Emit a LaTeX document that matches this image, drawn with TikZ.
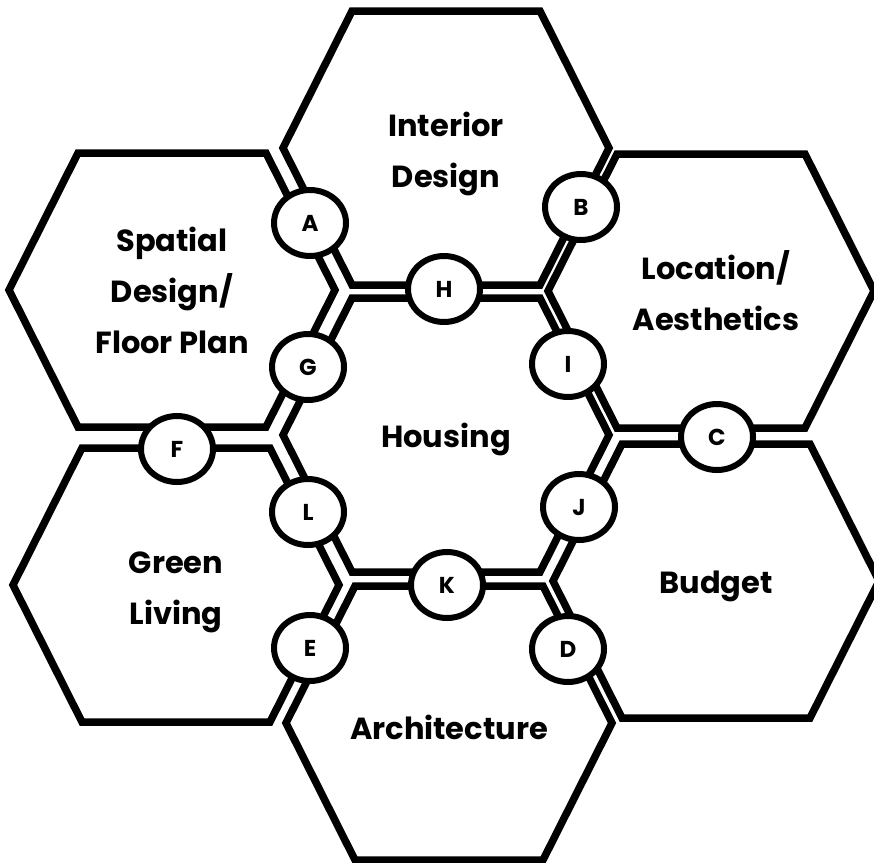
\documentclass[tikz,border=0pt]{standalone}
\usepackage{fontspec}
\setmainfont{Poppins}
\usetikzlibrary{shapes.geometric}

\tikzset{
  hexline/.style={line width=7.5pt, line join=miter},
  hexlabel/.style={align=center, font=\fontsize{30.5}{51}\selectfont\bfseries},
  badge/.style={ellipse, draw, line width=6pt, fill=white, minimum width=72pt,
    minimum height=66pt, inner sep=0pt, font=\fontsize{23}{26}\selectfont\bfseries}
}

\begin{document}
\begin{tikzpicture}[x=1pt,y=-1pt]
\useasboundingbox (0,0) rectangle (874,862);

% centres of the cells
\coordinate (int) at (446,148);
\coordinate (spa) at (172,290);
\coordinate (loc) at (711,291);
\coordinate (hou) at (446,435);
\coordinate (grn) at (176,585);
\coordinate (bud) at (716,581);
\coordinate (arc) at (449,723);

\foreach \c in {int,spa,loc,hou,grn,bud,arc}
  \draw[hexline,shift={(\c)}] (-163,0) -- (-94,-137) -- (94,-137) -- (163,0) -- (94,137) -- (-94,137) -- cycle;

\node[hexlabel] (intlabel) at ([yshift=-6pt]int) {Interior\\Design};
\node[hexlabel] (spalabel) at (spa) {Spatial\\Design/\\Floor Plan};
\node[hexlabel] (loclabel) at ([xshift=5pt]loc) {Location/\\Aesthetics};
\node[hexlabel] (houlabel) at ([yshift=-4pt]hou) {Housing};
\node[hexlabel] (grnlabel) at ([yshift=-7pt]grn) {Green\\Living};
\node[hexlabel] (budlabel) at ([yshift=-5pt]bud) {Budget};
\node[hexlabel] (arclabel) at ([yshift=-4pt]arc) {Architecture};

% joints
\node[badge] (a) at (310,223) {A};
\node[badge] (b) at (581,207) {B};
\node[badge] (c) at (717,437) {C};
\node[badge] (d) at (568,649) {D};
\node[badge] (e) at (310,648) {E};
\node[badge] (f) at (177,449) {F};
\node[badge] (g) at (308,367) {G};
\node[badge] (h) at (444,289) {H};
\node[badge] (i) at (568,364) {I};
\node[badge] (j) at (579,507) {J};
\node[badge] (k) at (447,585) {K};
\node[badge] (l) at (308,512) {L};

\end{tikzpicture}
\end{document}
